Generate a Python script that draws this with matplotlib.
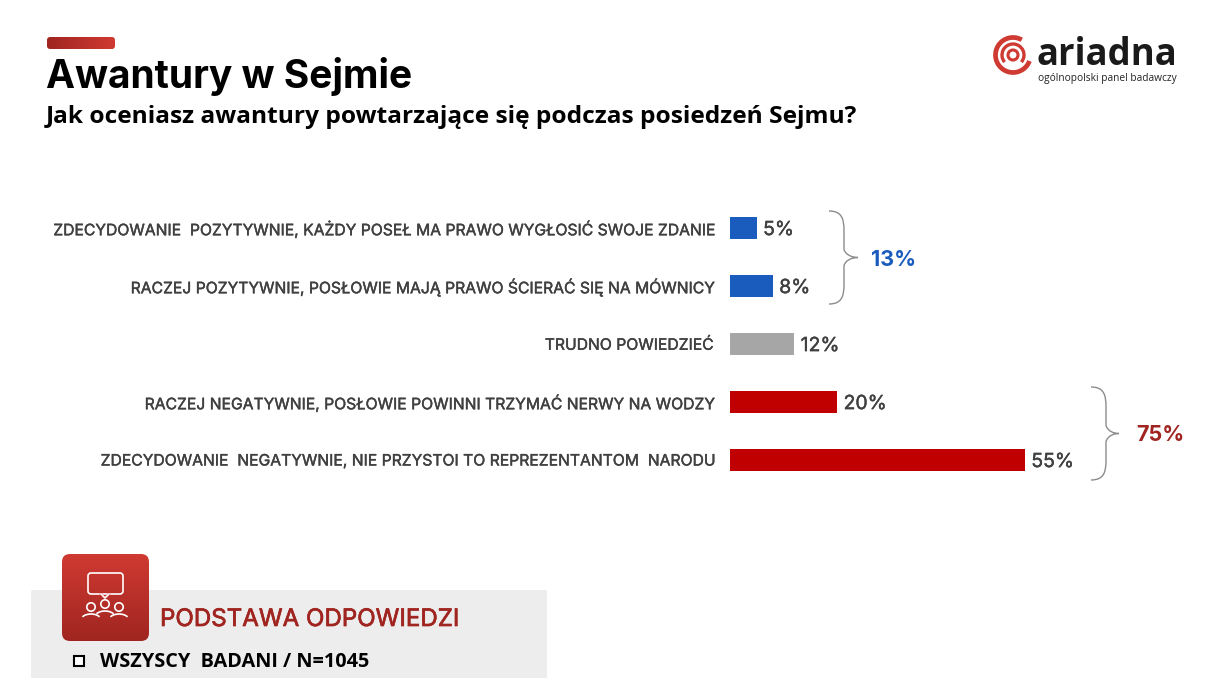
import matplotlib
matplotlib.use('Agg')
import matplotlib.pyplot as plt
import matplotlib.patheffects as pe
import numpy as np
from matplotlib.patches import FancyBboxPatch, Rectangle, Circle, Arc, PathPatch
from matplotlib.path import Path
from matplotlib.colors import LinearSegmentedColormap
from matplotlib.transforms import ScaledTranslation

# dane z wykresu
categories = [
    'ZDECYDOWANIE  POZYTYWNIE, KAŻDY POSEŁ MA PRAWO WYGŁOSIĆ SWOJE ZDANIE',
    'RACZEJ POZYTYWNIE, POSŁOWIE MAJĄ PRAWO ŚCIERAĆ SIĘ NA MÓWNICY',
    'TRUDNO POWIEDZIEĆ',
    'RACZEJ NEGATYWNIE, POSŁOWIE POWINNI TRZYMAĆ NERWY NA WODZY',
    'ZDECYDOWANIE  NEGATYWNIE, NIE PRZYSTOI TO REPREZENTANTOM  NARODU',
]
values = [5, 8, 12, 20, 55]
bar_colors = ['#1A5CBE', '#1A5CBE', '#A6A6A6', '#C00000', '#C00000']
sum_pos = '13%'
sum_neg = '75%'

W, H = 1212, 678
RED_DARK = '#A02520'
RED_LIGHT = '#CF3A32'
TEXT_GREY = '#404040'
WIDE = ['Inter', 'DejaVu Sans']
plt.rcParams['font.family'] = ['Open Sans', 'DejaVu Sans']

fig = plt.figure(figsize=(W / 100, H / 100), dpi=100, facecolor='white')

# warstwa w pikselach na dekoracje
bg = fig.add_axes([0, 0, 1, 1])
bg.set_xlim(0, W)
bg.set_ylim(H, 0)
bg.axis('off')

# pogrubienie, bo Inter nie ma tu wagi semibold
thick = [pe.withStroke(linewidth=0.3, foreground=TEXT_GREY)]
thick_red = [pe.withStroke(linewidth=0.5, foreground=RED_DARK)]


def gradient_box(x, y, w, h, rad, colors, horizontal=False):
    cmap = LinearSegmentedColormap.from_list('g', colors)
    grad = np.linspace(0, 1, 200)
    grad = grad.reshape(1, -1) if horizontal else grad.reshape(-1, 1)
    im = bg.imshow(grad, extent=(x, x + w, y + h, y), cmap=cmap, aspect='auto', zorder=3)
    clip = FancyBboxPatch((x + rad, y + rad), w - 2 * rad, h - 2 * rad,
                          boxstyle=f'round,pad={rad},rounding_size={rad}',
                          fc='none', ec='none', transform=bg.transData)
    bg.add_patch(clip)
    im.set_clip_path(clip)


def brace(x0, y0, y1, tip):
    ym = (y0 + y1) / 2
    bx = x0 + 15
    verts = [(x0, y0), (bx - 2, y0), (bx, y0 + 8), (bx, y0 + 20),
             (bx, ym - 20), (bx, ym - 14), (bx, ym - 8),
             (bx + 2, ym - 2), (tip - 5, ym), (tip, ym),
             (tip - 5, ym), (bx + 2, ym + 2), (bx, ym + 8),
             (bx, ym + 14), (bx, ym + 20), (bx, y1 - 20),
             (bx, y1 - 8), (bx - 2, y1), (x0, y1)]
    codes = [Path.MOVETO] + [Path.CURVE4] * 18
    bg.add_patch(PathPatch(Path(verts, codes), fc='none', ec='#8C8C8C', lw=1, zorder=3))


# nagłówek
gradient_box(47, 37, 68, 12, 3, [RED_DARK, RED_LIGHT], horizontal=True)
bg.text(46, 76, 'Awantury w Sejmie', fontsize=28, fontweight='bold', color='black',
        va='center', ha='left', family=WIDE)
bg.text(46, 117, 'Jak oceniasz awantury powtarzające się podczas posiedzeń Sejmu?',
        fontsize=17.63, fontweight='bold', color='black', va='center', ha='left')

# logo
cx, cy = 1013, 55
bg.add_patch(Arc((cx, cy), 35, 35, theta1=20, theta2=300, ec=RED_LIGHT, lw=3.4))
bg.add_patch(Arc((cx, cy), 22, 22, theta1=140, theta2=400, ec=RED_LIGHT, lw=2.4))
bg.add_patch(Circle((cx, cy), 5, fc='none', ec=RED_LIGHT, lw=2.2))
bg.text(1037, 55, 'ariadna', fontsize=26.3, fontweight='bold', color='#1A1A1A', va='center', ha='left')
bg.text(1177, 78, 'ogólnopolski panel badawczy', fontsize=7.25, color='#222222',
        va='center', ha='right')

# wykres słupkowy
ax = fig.add_axes([730 / W, 1 - 489 / H, 295 / W, 290 / H])
ax.patch.set_alpha(0)
y_pos = np.arange(len(categories))
ax.barh(y_pos, values, height=22 / 58, color=bar_colors)
ax.set_xlim(0, 55)
ax.set_ylim(4.5, -0.5)
ax.set_yticks(y_pos)
ax.set_yticklabels(categories, fontsize=11.3, color=TEXT_GREY, family=WIDE, path_effects=thick)
ax.tick_params(axis='y', length=0, pad=12.5)
up = ScaledTranslation(0, 0.5 / 100, fig.dpi_scale_trans)
for lab in ax.get_yticklabels():
    lab.set_transform(lab.get_transform() + up)
ax.xaxis.set_visible(False)
for s in ax.spines.values():
    s.set_visible(False)
for i, v in enumerate(values):
    ax.annotate(f'{v}%', (v, i), xytext=(4.5, -1.5), textcoords='offset points', va='center',
                ha='left', fontsize=14, color=TEXT_GREY, family=WIDE, path_effects=thick,
                annotation_clip=False)

# klamry z sumami
brace(829, 211, 304, 858)
bg.text(871, 260, sum_pos, fontsize=15.5, fontweight='bold', color='#1A5CBE', va='center', ha='left',
        family=WIDE)
brace(1091, 387, 480, 1119)
bg.text(1136, 435, sum_neg, fontsize=15.5, fontweight='bold', color=RED_DARK, va='center', ha='left',
        family=WIDE)

# podstawa odpowiedzi
bg.add_patch(FancyBboxPatch((31, 590), 516, 100, boxstyle='round,pad=0,rounding_size=2',
                            fc='#EDEDED', ec='none', zorder=1))
gradient_box(62, 554, 87, 87, 8, [RED_LIGHT, RED_DARK])
# ikona: dymek i trzy osoby
bubble = FancyBboxPatch((88, 573), 35, 21, boxstyle='round,pad=0,rounding_size=3',
                        fc='none', ec='white', lw=1.2, zorder=5)
bg.add_patch(bubble)
bg.plot([101, 105, 109], [594, 598, 594], color=RED_LIGHT, lw=1.6, zorder=5)
bg.plot([101, 105, 109], [594, 598, 594], color='white', lw=1.2, zorder=6)
for px, py in [(91, 607), (105, 604), (119, 607)]:
    bg.add_patch(Circle((px, py), 4.2, fc='none', ec='white', lw=1.2, zorder=5))
    bg.add_patch(Arc((px, py + 13), 20, 12, theta1=200, theta2=340, ec='white', lw=1.2, zorder=5))

bg.text(160, 620, 'PODSTAWA ODPOWIEDZI', fontsize=17.35, color=RED_DARK,
        va='center', ha='left', family=WIDE, path_effects=thick_red)
bg.add_patch(Rectangle((73.5, 656), 10, 10, fc='white', ec='black', lw=1.5, zorder=3))
bg.text(100, 662, 'WSZYSCY  BADANI / N=1045', fontsize=14.35, fontweight='bold', color='black',
        va='center', ha='left')

bg.set_xlim(0, W)
bg.set_ylim(H, 0)
fig.savefig('out.png', dpi=100)
